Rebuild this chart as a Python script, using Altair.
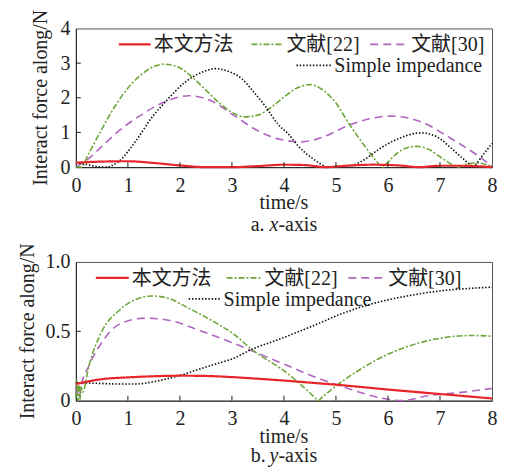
import altair as alt
import pandas as pd

# ---------------- data ----------------
SERIES = ["本文方法", "文献[22]", "文献[30]", "Simple impedance"]

# panel a: x-axis
ax_ours_t = [0, 0.5, 1.0, 1.5, 2.0, 2.5, 3.0, 3.5, 4.0, 4.4, 4.8, 5.2, 5.7, 6.2, 6.6, 7.0, 7.4, 8.0]
ax_ours_v = [0.13, 0.16, 0.17, 0.12, 0.05, 0.0, 0.0, 0.03, 0.07, 0.06, 0.0, 0.04, 0.07, 0.05, 0.0, 0.04, 0.04, 0.0]

ax_22_t = [0, 0.1, 0.25, 0.5, 0.75, 1.0, 1.25, 1.5, 1.7, 2.0, 2.25, 2.5, 2.75, 3.0, 3.25, 3.5, 3.75,
           4.0, 4.25, 4.5, 4.75, 5.0, 5.25, 5.5, 5.75, 5.84, 5.9, 5.96, 6.1, 6.3, 6.55, 6.8, 7.0,
           7.2, 7.29, 7.35, 7.41, 7.5, 7.7, 8.0]
ax_22_v = [0.02, 0.0, 0.4, 1.1, 1.75, 2.28, 2.66, 2.9, 2.97, 2.86, 2.58, 2.22, 1.86, 1.58, 1.45, 1.5, 1.72,
           2.02, 2.28, 2.38, 2.22, 1.85, 1.25, 0.72, 0.22, 0.06, 0.0, 0.08, 0.3, 0.52, 0.6, 0.5, 0.3,
           0.1, 0.03, 0.0, 0.03, 0.08, 0.12, 0.02]

ax_30_t = [0, 0.25, 0.5, 0.83, 1.25, 1.69, 2.17, 2.62, 3.0, 3.5, 3.96, 4.34, 4.79, 5.2, 5.6, 6.05,
           6.65, 7.09, 7.35, 7.73, 8.0]
ax_30_v = [0.0, 0.25, 0.6, 1.05, 1.5, 1.87, 2.06, 1.9, 1.53, 1.05, 0.79, 0.73, 0.89, 1.18, 1.38, 1.47,
           1.3, 0.94, 0.7, 0.33, 0.02]

ax_imp_t = [0, 0.2, 0.4, 0.57, 0.83, 1.15, 1.47, 1.72, 2.1, 2.4, 2.68, 2.95, 3.19, 3.4, 3.64, 3.89,
            4.09, 4.28, 4.55, 4.77, 4.83, 5.0, 5.3, 5.55, 5.81, 6.2, 6.65, 7.0, 7.16, 7.4, 7.58,
            7.64, 7.7, 7.8, 8.0]
ax_imp_v = [0.12, 0.08, 0.02, 0.0, 0.17, 0.75, 1.45, 1.88, 2.45, 2.72, 2.84, 2.75, 2.55, 2.2, 1.76, 1.23,
            0.95, 0.6, 0.25, 0.04, 0.0, 0.02, 0.05, 0.22, 0.5, 0.82, 0.99, 0.82, 0.62, 0.3, 0.07,
            0.0, 0.1, 0.3, 0.68]

# panel b: y-axis
ay_ours_t = [0, 0.5, 1, 1.5, 2, 2.5, 3, 3.5, 4, 4.5, 5, 5.5, 6, 6.5, 7, 7.5, 8]
ay_ours_v = [0.12, 0.155, 0.168, 0.176, 0.18, 0.178, 0.17, 0.158, 0.145, 0.13, 0.115, 0.098, 0.08,
             0.064, 0.048, 0.032, 0.016]

ay_22_t = [0, 0.02, 0.04, 0.06, 0.08, 0.1, 0.13, 0.25, 0.5, 0.83, 1.15, 1.46, 1.8, 2.1, 2.74, 3.0,
           3.38, 4.09, 4.5, 4.6, 4.66, 4.72, 4.85, 5.01, 5.4, 5.81, 6.45, 7.09, 7.6, 8.0]
ay_22_v = [0.02, 0.15, 0.0, 0.13, 0.01, 0.1, 0.06, 0.25, 0.5, 0.65, 0.73, 0.755, 0.735, 0.68, 0.55, 0.49,
           0.37, 0.19, 0.055, 0.02, 0.0, 0.02, 0.06, 0.108, 0.21, 0.3, 0.4, 0.455, 0.47, 0.465]

ay_30_t = [0, 0.02, 0.04, 0.07, 0.1, 0.25, 0.5, 0.83, 1.34, 1.78, 2.42, 3.06, 3.7, 4.09, 4.53, 5.17,
           5.81, 6.26, 6.77, 7.41, 8.0]
ay_30_v = [0.1, 0.02, 0.08, 0.03, 0.1, 0.25, 0.42, 0.55, 0.595, 0.58, 0.5, 0.41, 0.31, 0.25, 0.18, 0.096,
           0.024, 0.0, 0.036, 0.06, 0.088]

ay_imp_t = [0, 0.4, 0.83, 1.15, 1.47, 1.98, 2.4, 2.74, 3.0, 3.38, 3.89, 4.53, 5.17, 5.81, 6.45, 7.09, 7.6, 8.0]
ay_imp_v = [0.13, 0.125, 0.12, 0.12, 0.135, 0.18, 0.23, 0.27, 0.3, 0.37, 0.44, 0.535, 0.635, 0.71, 0.76,
            0.795, 0.81, 0.818]

x_ticks = [1, 2, 3, 4, 5, 6, 7]
ya_ticks = [1, 2, 3]
yb_ticks = [0.5]

X_TITLE = "time/s"
Y_TITLE = "Interact force along/N"

# ---------------- styling ----------------
W, H = 417, 139
FONT = "Liberation Serif, 'Noto Sans CJK SC'"
FS = 20
TC = "#222222"
STYLES = {
    "本文方法": dict(color="#e8262a", strokeDash=[1, 0], strokeWidth=2.2),
    "文献[22]": dict(color="#6ea63a", strokeDash=[6, 2, 2, 2], strokeWidth=1.6),
    "文献[30]": dict(color="#b065c0", strokeDash=[8, 5], strokeWidth=1.6),
    "Simple impedance": dict(color="#111111", strokeDash=[1.5, 1.8], strokeWidth=1.6),
}


def txt_layer(text, x, y, **kw):
    return alt.Chart(pd.DataFrame({"s": [text]})).mark_text(
        font=FONT, fontSize=FS, color=TC, **kw).encode(
        x=alt.value(x), y=alt.value(y), text="s:N")


def panel(series, ydomain, yvalues, ylabel_expr, yticks, ytitle_x, legend_pos, cap_prefix, cap_letter,
          cap_y):
    xscale = alt.Scale(domain=[0, 8], nice=False, zero=False)
    yscale = alt.Scale(domain=ydomain, nice=False, zero=False)
    xaxis = alt.Axis(values=list(range(9)), format="d", title=None,
                     labelFont=FONT, labelFontSize=FS, labelColor=TC,
                     ticks=False, tickSize=0, labelPadding=8,
                     grid=False, domainColor="#222222", labelFlush=False, labelOverlap=False)
    yaxis = alt.Axis(values=yvalues, labelExpr=ylabel_expr, title=None,
                     labelFont=FONT, labelFontSize=FS, labelColor=TC,
                     ticks=False, tickSize=0, labelPadding=6,
                     grid=False, domainColor="#222222", labelFlush=False, labelOverlap=False)

    layers = []
    for name, (ts, vs) in series.items():
        df = pd.DataFrame({"t": ts, "v": vs})
        st = STYLES[name]
        layers.append(
            alt.Chart(df).mark_line(interpolate="monotone", **st).encode(
                x=alt.X("t:Q", scale=xscale, axis=xaxis),
                y=alt.Y("v:Q", scale=yscale, axis=yaxis),
            )
        )
    # inward ticks
    layers.append(
        alt.Chart(pd.DataFrame({"t": x_ticks})).mark_rule(color="#222222", strokeWidth=1).encode(
            x=alt.X("t:Q", scale=xscale, axis=xaxis), y=alt.value(H), y2=alt.value(H - 5))
    )
    layers.append(
        alt.Chart(pd.DataFrame({"v": yticks})).mark_rule(color="#222222", strokeWidth=1).encode(
            y=alt.Y("v:Q", scale=yscale, axis=yaxis), x=alt.value(0), x2=alt.value(5))
    )
    # legend
    for name, (x1, x2, yy) in legend_pos.items():
        st = STYLES[name]
        layers.append(
            alt.Chart(pd.DataFrame({"s": [name]})).mark_rule(**st).encode(
                x=alt.value(x1), x2=alt.value(x2), y=alt.value(yy))
        )
        layers.append(txt_layer(name, x2 + 3, yy + 1, align="left", baseline="middle"))
    # axis titles
    layers.append(txt_layer(X_TITLE, W / 2, H + 42, align="center", baseline="alphabetic"))
    layers.append(txt_layer(Y_TITLE, ytitle_x, H / 2, align="center", baseline="alphabetic", angle=270))
    # caption  e.g. "a. x-axis" with italic letter
    w_pre = 0.694 * FS + 0.25 * FS
    w_let = 0.444 * FS
    w_post = 1.944 * FS
    x0 = W / 2 - (w_pre + w_let + w_post) / 2
    for txt, xx, style in [(cap_prefix, x0, "normal"), (cap_letter, x0 + w_pre, "italic"),
                           ("-axis", x0 + w_pre + w_let, "normal")]:
        layers.append(txt_layer(txt, xx, cap_y, align="left", baseline="alphabetic", fontStyle=style))
    return alt.layer(*layers).properties(width=W, height=H)


top = panel(
    {"文献[30]": (ax_30_t, ax_30_v), "文献[22]": (ax_22_t, ax_22_v),
     "Simple impedance": (ax_imp_t, ax_imp_v), "本文方法": (ax_ours_t, ax_ours_v)},
    [0, 4], [0, 1, 2, 3, 4], "format(datum.value, 'd')", ya_ticks, -29,
    {"本文方法": (43, 75, 16), "文献[22]": (176, 208, 16), "文献[30]": (295, 333, 16),
     "Simple impedance": (221, 256, 37)},
    "a.", "x", 203,
)
bottom = panel(
    {"文献[30]": (ay_30_t, ay_30_v), "文献[22]": (ay_22_t, ay_22_v),
     "Simple impedance": (ay_imp_t, ay_imp_v), "本文方法": (ay_ours_t, ay_ours_v)},
    [0, 1], [0, 0.5, 1.0], "datum.value == 0 ? '0' : format(datum.value, '.1f')", yb_ticks, -42,
    {"本文方法": (20, 53, 16), "文献[22]": (151, 186, 16), "文献[30]": (273, 310, 16),
     "Simple impedance": (113, 145, 37)},
    "b.", "y", 200,
)

chart = alt.vconcat(top, bottom, spacing=6).properties(
    padding={"left": 9, "top": 0, "right": -1, "bottom": 0}
).configure_view(stroke="#555555", strokeWidth=1)

chart.save("out.html", embed_options={"renderer": "svg", "actions": False})
